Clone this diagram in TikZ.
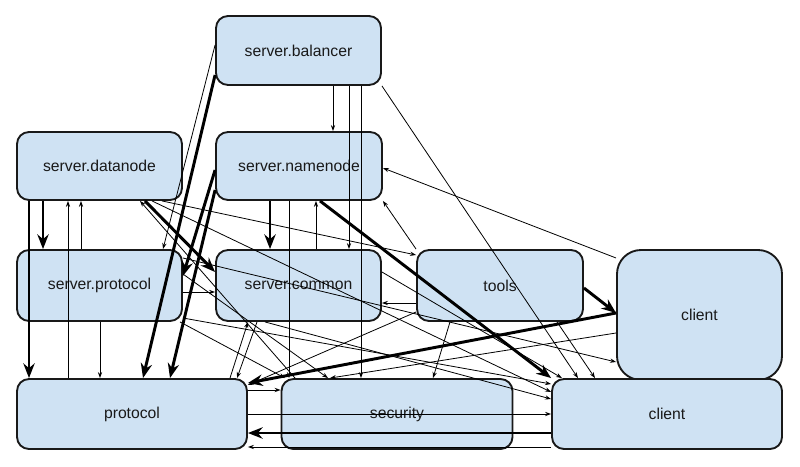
\documentclass[tikz,border=0pt]{standalone}
\usepackage{fontspec}
\newfontfamily\pkgfont{Liberation Sans}
\usepackage{tikz}
\usetikzlibrary{arrows.meta,calc}
\definecolor{pkgblue}{RGB}{207,226,243}

\tikzset{
  pkg/.style={draw=black!90, line width=1.4pt, fill=pkgblue, rounded corners=9pt,
    inner sep=0pt, text=black!90, font={\pkgfont\fontsize{11.8}{13}\selectfont}},
  dep/.style={line width=0.6pt, -{Stealth[length=4.5pt,width=3.2pt]}},
  usedep/.style={line width=2.2pt, -{Stealth[length=11pt,width=8.5pt]}},
}

\begin{document}
\begin{tikzpicture}[x=0.75pt,y=0.75pt,yscale=-1,xscale=1]
        \useasboundingbox (0,0) rectangle (800,467);
        % Packages
        \node[pkg, minimum width=123.75pt, minimum height=51.75pt] (bal) at (298.5,50.5) {server.balancer};
        \node[pkg, minimum width=123.75pt, minimum height=51pt] (dn) at (99.5,166) {server.datanode};
        \node[pkg, minimum width=124.5pt, minimum height=51pt] (nn) at (299,166) {server.namenode};
        \node[pkg, minimum width=123.75pt, minimum height=53.25pt] (sp) at (99.5,285.5) {server.protocol};
        \node[pkg, minimum width=123.75pt, minimum height=53.25pt] (sc) at (298.5,285.5) {server.common};
        \node[pkg, minimum width=124.5pt, minimum height=53.25pt] (tools) at (500,285.5) {tools};
        \node[pkg, minimum width=123.75pt, minimum height=97.5pt, rounded corners=18pt] (cu) at (699.5,315) {client};
        \node[pkg, minimum width=172.5pt, minimum height=52.5pt] (pr) at (132,414) {protocol};
        \node[pkg, minimum width=173.25pt, minimum height=52.5pt] (sec) at (397,414) {security};
        \node[pkg, minimum width=172.5pt, minimum height=52.5pt] (cb) at (667,414) {client};
        % Heavy dependencies
        \draw[usedep] (29,0 |- dn.south) -- (29,0 |- pr.north);
        \draw[usedep] (43,0 |- dn.south) -- (43,0 |- sp.north);
        \draw[usedep] (270,0 |- nn.south) -- (270,0 |- sc.north);
        \draw[usedep] (bal.west |- 0,75) -- (143,0 |- pr.north);
        \draw[usedep] (nn.west |- 0,190) -- (170,0 |- pr.north);
        \draw[usedep] (nn.west |- 0,170) -- (sp.east |- 0,276);
        \draw[usedep] (145,0 |- dn.south) -- (sc.west |- 0,272);
        \draw[usedep] (320,0 |- nn.south) -- (cb.north west);
        \draw[usedep] (tools.east |- 0,288) -- (cu.west |- 0,313);
        \draw[usedep] (cu.west |- 0,313) -- (pr.east |- 0,383);
        \draw[usedep] (cb.west |- 0,433) -- (pr.east |- 0,433);
        % Light dependencies
        \draw[dep] (333,0 |- bal.south) -- (333,0 |- nn.north);
        \draw[dep] (349,0 |- bal.south) -- (349,0 |- sc.north);
        \draw[dep] (361,0 |- bal.south) -- (361,0 |- sec.north);
        \draw[dep] (289,0 |- nn.south) -- (289,0 |- sec.north);
        \draw[dep] (316,0 |- sc.north) -- (316,0 |- nn.south);
        \draw[dep] (bal.west |- 0,45) -- (163,0 |- sp.north);
        \draw[dep] (68,0 |- pr.north) -- (68,0 |- dn.south);
        \draw[dep] (81,0 |- sp.north) -- (81,0 |- dn.south);
        \draw[dep] (100,0 |- sp.south) -- (100,0 |- pr.north);
        \draw[dep] (sp.east |- 0,292) -- (sc.west |- 0,292);
        \draw[dep] (tools.west |- 0,303) -- (sc.east |- 0,303);
        \draw[dep] (tools.north west) -- (nn.south east);
        \draw[dep] (cu.west |- 0,258) -- (nn.east |- 0,168);
        \draw[dep] (bal.south east) -- (578,0 |- cb.north);
        \draw[dep] (557,0 |- tools.south) -- (595,0 |- cb.north);
        \draw[dep] (450,0 |- tools.south) -- (433,0 |- sec.north);
        \draw[dep] (tools.west |- 0,312) -- (pr.east |- 0,385);
        \draw[dep] (pr.east |- 0,390) -- (sec.west |- 0,390);
        \draw[dep] (pr.east |- 0,414) -- (cb.west |- 0,414);
        \draw[dep] (cb.west |- 0,447) -- (pr.east |- 0,447);
        \draw[dep] (257,0 |- sc.south) -- (237,0 |- pr.north);
        \draw[dep] (230,0 |- pr.north) -- (248,0 |- sc.south);
        \draw[dep] (cu.west |- 0,333) -- (330,0 |- sec.north);
        \draw[dep] (162,0 |- dn.south) -- (tools.west |- 0,255);
        \draw[dep] (295,0 |- sec.north) -- (140,0 |- dn.south);
        \draw[dep] (152,0 |- dn.south) -- (cb.west |- 0,392);
        \draw[dep] (sp.east |- 0,318) -- (cb.west |- 0,384);
        \draw[dep] (sp.east |- 0,274) -- (328,0 |- sec.north);
        \draw[dep] (180,0 |- sp.south) -- (285,0 |- sec.north);
        \draw[dep] (sc.east |- 0,272) -- (562,0 |- cb.north);
        \draw[dep] (265,0 |- sc.south) -- (cb.west |- 0,399);
        \draw[dep] (sp.east |- 0,258) -- (cu.west |- 0,362);
\end{tikzpicture}
\end{document}
